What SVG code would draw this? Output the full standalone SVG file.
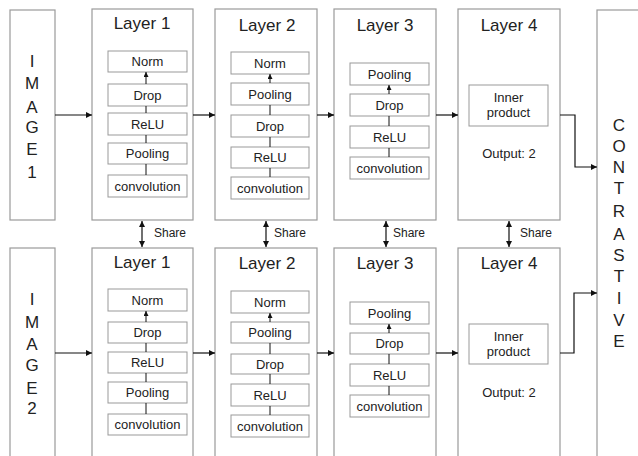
<svg xmlns="http://www.w3.org/2000/svg" width="638" height="456" viewBox="0 0 638 456">
<defs>
<marker id="ah" viewBox="0 0 10 10" refX="10" refY="5" markerWidth="6" markerHeight="6" markerUnits="userSpaceOnUse" orient="auto"><path d="M0,0 L10,5 L0,10 z" fill="#111"/></marker>
<marker id="as" viewBox="0 0 10 10" refX="10" refY="5" markerWidth="5" markerHeight="5" markerUnits="userSpaceOnUse" orient="auto"><path d="M0,0 L10,5 L0,10 z" fill="#111"/></marker>
<marker id="ab" viewBox="0 0 10 10" refX="10" refY="5" markerWidth="6" markerHeight="6" markerUnits="userSpaceOnUse" orient="auto-start-reverse"><path d="M0,0 L10,5 L0,10 z" fill="#111"/></marker>
</defs>
<style>
.outer{fill:#fff;stroke:#9a9a9a;stroke-width:1.2}
.inner{fill:#fff;stroke:#999;stroke-width:1}
.t{font-family:"Liberation Sans",Arial,sans-serif;fill:#222;text-anchor:middle}
.title{font-size:17px}
.lbl{font-size:13px}
.big{font-size:17px}
.sh{font-family:"Liberation Sans",Arial,sans-serif;fill:#222;font-size:12px}
.c{fill:none;stroke:#111;stroke-width:1.2}
.s{fill:none;stroke:#111;stroke-width:1}
</style>
<rect width="638" height="456" fill="#fff"/>

<g id="image1"><rect class="outer" x="10" y="10" width="45" height="210"/>
<text class="t big" x="32" y="67">I</text><text class="t big" x="32" y="89">M</text><text class="t big" x="32" y="113">A</text><text class="t big" x="32" y="133">G</text><text class="t big" x="32" y="155">E</text><text class="t big" x="32" y="178">1</text></g>

<g id="image2"><rect class="outer" x="10" y="248" width="45" height="230"/>
<text class="t big" x="32" y="305">I</text><text class="t big" x="32" y="328">M</text><text class="t big" x="32" y="350">A</text><text class="t big" x="32" y="371">G</text><text class="t big" x="32" y="394">E</text><text class="t big" x="32" y="414">2</text></g>

<g id="contrastive"><rect class="outer" x="597" y="10" width="60" height="470"/>
<text class="t big" x="619" y="131">C</text><text class="t big" x="619" y="152">O</text><text class="t big" x="619" y="173">N</text><text class="t big" x="619" y="194">T</text><text class="t big" x="619" y="217">R</text><text class="t big" x="619" y="240">A</text><text class="t big" x="619" y="261">S</text><text class="t big" x="619" y="282">T</text><text class="t big" x="619" y="304">I</text><text class="t big" x="619" y="326">V</text><text class="t big" x="619" y="347">E</text></g>

<g id="top-layer1"><rect class="outer" x="92" y="9" width="101" height="211"/>
<text class="t title" x="142" y="29">Layer 1</text>
<rect class="inner" x="108" y="51" width="79" height="21"/><text class="t lbl" x="147.5" y="66">Norm</text>
<rect class="inner" x="108" y="84" width="79" height="22"/><text class="t lbl" x="147.5" y="99.5">Drop</text>
<rect class="inner" x="108" y="113" width="79" height="22"/><text class="t lbl" x="147.5" y="128.5">ReLU</text>
<rect class="inner" x="108" y="143" width="79" height="21"/><text class="t lbl" x="147.5" y="158">Pooling</text>
<rect class="inner" x="108" y="175" width="79" height="22"/><text class="t lbl" x="147.5" y="190.5">convolution</text>
<path class="s" marker-end="url(#as)" d="M146,175V164M146,143V135M146,113V106M146,84V72"/></g>

<g id="top-layer2"><rect class="outer" x="215" y="9" width="102" height="211"/>
<text class="t title" x="267" y="31">Layer 2</text>
<rect class="inner" x="231" y="52" width="78" height="22"/><text class="t lbl" x="270" y="67.5">Norm</text>
<rect class="inner" x="231" y="83" width="78" height="22"/><text class="t lbl" x="270" y="98.5">Pooling</text>
<rect class="inner" x="231" y="115" width="78" height="22"/><text class="t lbl" x="270" y="130.5">Drop</text>
<rect class="inner" x="231" y="147" width="78" height="21"/><text class="t lbl" x="270" y="162">ReLU</text>
<rect class="inner" x="231" y="177" width="78" height="22"/><text class="t lbl" x="270" y="192.5">convolution</text>
<path class="s" marker-end="url(#as)" d="M270,177V168M270,147V137M270,115V105M270,83V74"/></g>

<g id="top-layer3"><rect class="outer" x="334" y="9" width="102" height="211"/>
<text class="t title" x="385" y="31">Layer 3</text>
<rect class="inner" x="350" y="63" width="79" height="22"/><text class="t lbl" x="389.5" y="78.5">Pooling</text>
<rect class="inner" x="350" y="94" width="79" height="22"/><text class="t lbl" x="389.5" y="109.5">Drop</text>
<rect class="inner" x="350" y="126" width="79" height="22"/><text class="t lbl" x="389.5" y="141.5">ReLU</text>
<rect class="inner" x="350" y="157" width="79" height="22"/><text class="t lbl" x="389.5" y="172.5">convolution</text>
<path class="s" marker-end="url(#as)" d="M389,157V148M389,126V116M389,94V85"/></g>

<g id="top-layer4"><rect class="outer" x="458" y="9" width="102" height="211"/>
<text class="t title" x="509" y="31">Layer 4</text>
<rect class="inner" x="469" y="85" width="79" height="41"/>
<text class="t lbl" x="508.5" y="102">Inner</text><text class="t lbl" x="508.5" y="117">product</text>
<text class="t lbl" x="509" y="158">Output: 2</text></g>

<g id="bottom-layer1"><rect class="outer" x="92" y="248" width="101" height="230"/>
<text class="t title" x="142" y="268">Layer 1</text>
<rect class="inner" x="108" y="289" width="79" height="22"/><text class="t lbl" x="147.5" y="304.5">Norm</text>
<rect class="inner" x="108" y="322" width="79" height="21"/><text class="t lbl" x="147.5" y="337">Drop</text>
<rect class="inner" x="108" y="352" width="79" height="21"/><text class="t lbl" x="147.5" y="367">ReLU</text>
<rect class="inner" x="108" y="382" width="79" height="21"/><text class="t lbl" x="147.5" y="397">Pooling</text>
<rect class="inner" x="108" y="414" width="79" height="21"/><text class="t lbl" x="147.5" y="429">convolution</text>
<path class="s" marker-end="url(#as)" d="M146,414V403M146,382V373M146,352V343M146,322V311"/></g>

<g id="bottom-layer2"><rect class="outer" x="215" y="248" width="102" height="230"/>
<text class="t title" x="267" y="269">Layer 2</text>
<rect class="inner" x="231" y="291" width="78" height="22"/><text class="t lbl" x="270" y="306.5">Norm</text>
<rect class="inner" x="231" y="322" width="78" height="21"/><text class="t lbl" x="270" y="337">Pooling</text>
<rect class="inner" x="231" y="354" width="78" height="20"/><text class="t lbl" x="270" y="368.5">Drop</text>
<rect class="inner" x="231" y="384" width="78" height="22"/><text class="t lbl" x="270" y="399.5">ReLU</text>
<rect class="inner" x="231" y="415" width="78" height="22"/><text class="t lbl" x="270" y="430.5">convolution</text>
<path class="s" marker-end="url(#as)" d="M270,415V406M270,384V374M270,354V343M270,322V313"/></g>

<g id="bottom-layer3"><rect class="outer" x="334" y="248" width="102" height="230"/>
<text class="t title" x="385" y="269">Layer 3</text>
<rect class="inner" x="350" y="302" width="79" height="22"/><text class="t lbl" x="389.5" y="317.5">Pooling</text>
<rect class="inner" x="350" y="333" width="79" height="21"/><text class="t lbl" x="389.5" y="348">Drop</text>
<rect class="inner" x="350" y="364" width="79" height="22"/><text class="t lbl" x="389.5" y="379.5">ReLU</text>
<rect class="inner" x="350" y="395" width="79" height="22"/><text class="t lbl" x="389.5" y="410.5">convolution</text>
<path class="s" marker-end="url(#as)" d="M389,395V386M389,364V354M389,333V324"/></g>

<g id="bottom-layer4"><rect class="outer" x="458" y="248" width="102" height="230"/>
<text class="t title" x="509" y="269">Layer 4</text>
<rect class="inner" x="469" y="324" width="79" height="40"/>
<text class="t lbl" x="508.5" y="341">Inner</text><text class="t lbl" x="508.5" y="356">product</text>
<text class="t lbl" x="509" y="397">Output: 2</text></g>

<g id="connectors">
<path class="c" marker-end="url(#ah)" d="M55,115H92"/>
<path class="c" marker-end="url(#ah)" d="M193,115H215"/>
<path class="c" marker-end="url(#ah)" d="M317,115H334"/>
<path class="c" marker-end="url(#ah)" d="M436,115H458"/>
<path class="c" marker-end="url(#ah)" d="M560,115H575V167H597"/>
<path class="c" marker-end="url(#ah)" d="M55,353H92"/>
<path class="c" marker-end="url(#ah)" d="M193,353H215"/>
<path class="c" marker-end="url(#ah)" d="M317,353H334"/>
<path class="c" marker-end="url(#ah)" d="M436,353H458"/>
<path class="c" marker-end="url(#ah)" d="M560,353H574V293H597"/>
<path class="c" marker-start="url(#ab)" marker-end="url(#ab)" d="M142,221V247"/>
<path class="c" marker-start="url(#ab)" marker-end="url(#ab)" d="M266,221V247"/>
<path class="c" marker-start="url(#ab)" marker-end="url(#ab)" d="M386,221V247"/>
<path class="c" marker-start="url(#ab)" marker-end="url(#ab)" d="M509,221V247"/>
<text class="sh" x="154" y="237">Share</text>
<text class="sh" x="274" y="237">Share</text>
<text class="sh" x="393" y="237">Share</text>
<text class="sh" x="520" y="237">Share</text>
</g>
</svg>
